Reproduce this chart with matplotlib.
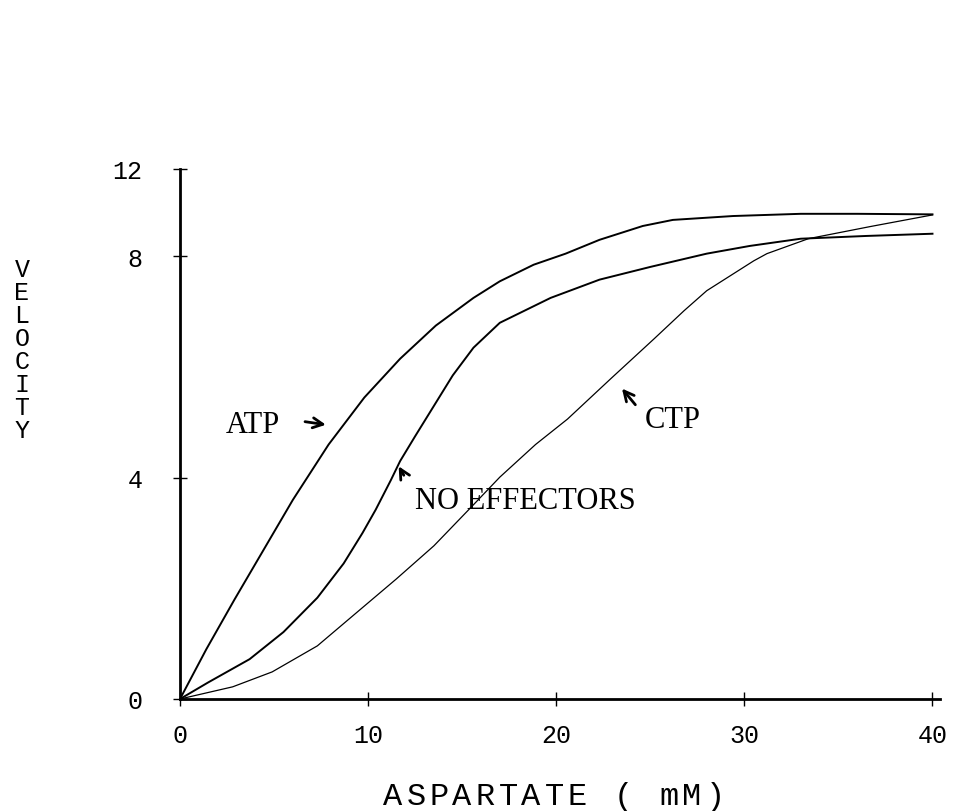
import matplotlib
matplotlib.use("Agg")
import matplotlib.pyplot as plt

# aspartate (mM) vs velocity
atp_x = [0, 1.4, 2.9, 6.0, 7.9, 9.8, 11.7, 13.6, 15.6, 17.0, 18.8, 20.5, 22.3, 24.6, 26.2, 29.4, 33.0, 36.0, 40.0]
atp_y = [0, 0.9, 1.8, 3.6, 4.6, 5.45, 6.15, 6.75, 7.25, 7.55, 7.85, 8.05, 8.3, 8.55, 8.66, 8.73, 8.77, 8.77, 8.76]

none_x = [0, 1.5, 3.7, 5.5, 7.3, 8.7, 9.7, 10.4, 11.2, 11.7, 12.5, 13.5, 14.5, 15.6, 17.0, 19.7, 22.3, 25.0, 28.0, 30.3, 33.0, 36.5, 40.0]
none_y = [0, 0.3, 0.72, 1.21, 1.83, 2.45, 3.0, 3.42, 3.95, 4.3, 4.75, 5.3, 5.85, 6.35, 6.8, 7.25, 7.58, 7.81, 8.05, 8.19, 8.32, 8.37, 8.41]

ctp_x = [0, 2.8, 4.9, 7.3, 9.0, 11.5, 13.5, 15.4, 17.0, 18.9, 20.6, 22.9, 25.2, 26.8, 28.0, 30.5, 31.2, 33.4, 36.7, 40.0]
ctp_y = [0, 0.22, 0.49, 0.96, 1.45, 2.17, 2.77, 3.44, 4.01, 4.6, 5.06, 5.79, 6.51, 7.02, 7.38, 7.92, 8.05, 8.32, 8.54, 8.75]

x_ticks = [0, 10, 20, 30, 40]
# the original's top label "12" sits at the end of the axis, not at 12 units
y_ticks = [0, 4, 8, 9.58]
y_labels = ["0", "4", "8", "12"]

mono = "Liberation Mono"
serif = "Liberation Serif"

fig = plt.figure(figsize=(9.56, 8.12), dpi=100)
ax = fig.add_axes([180/956, 1 - 700/812, 760/956, 530/812])

ax.plot(atp_x, atp_y, color="black", lw=1.4)
ax.plot(none_x, none_y, color="black", lw=1.4)
ax.plot(ctp_x, ctp_y, color="black", lw=0.9)

ax.set_xlim(0, 40.4)
ax.set_ylim(0, 9.58)
for s in ["top", "right"]:
    ax.spines[s].set_visible(False)
for s in ["left", "bottom"]:
    ax.spines[s].set_linewidth(2)

ax.set_xticks(x_ticks)
ax.set_xticklabels([str(t) for t in x_ticks], fontfamily=mono, fontsize=18)
ax.set_yticks(y_ticks)
ax.set_yticklabels(y_labels, fontfamily=mono, fontsize=18)
ax.tick_params(axis="x", direction="inout", length=10, width=1, pad=12)
ax.tick_params(axis="y", direction="inout", length=10, width=1, pad=22)

# curve labels with hand-drawn style arrows
arr = dict(arrowstyle="->", color="black", lw=2, mutation_scale=18)
ax.text(3.9, 4.97, "ATP", family=serif, fontsize=22, ha="center", va="center")
ax.annotate("", xy=(7.9, 4.95), xytext=(6.5, 5.02), arrowprops=arr)
ax.text(12.5, 3.58, "NO EFFECTORS", family=serif, fontsize=22, ha="left", va="center")
ax.annotate("", xy=(11.55, 4.25), xytext=(11.97, 4.0), arrowprops=arr)
ax.text(24.7, 5.05, "CTP", family=serif, fontsize=22, ha="left", va="center")
ax.annotate("", xy=(23.4, 5.65), xytext=(24.3, 5.28), arrowprops=arr)

# typewriter-spaced axis titles, one character at a time
for i, ch in enumerate("ASPARTATE ( mM)"):
    fig.text((393 + i * 23) / 956, 1 - 797/812, ch, family=mono, fontsize=23, ha="center", va="center")
for i, ch in enumerate("VELOCITY"):
    fig.text(22/956, 1 - (270 + i * 23) / 812, ch, family=mono, fontsize=18, ha="center", va="center")

fig.savefig("out.png", dpi=100)
